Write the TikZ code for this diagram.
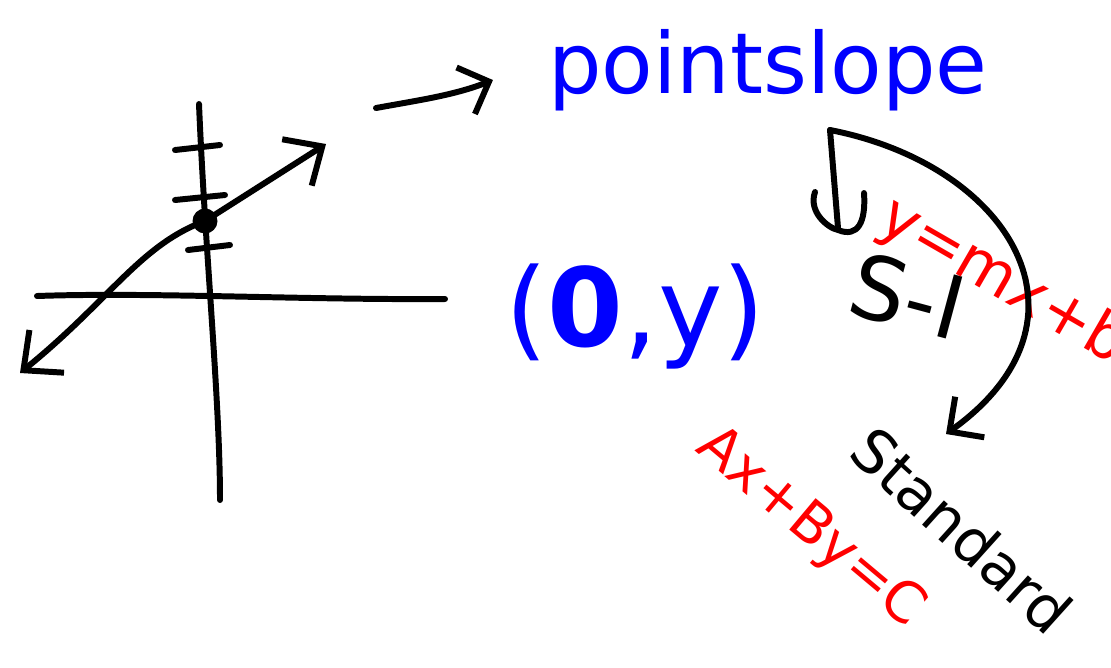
\documentclass[tikz,border=0pt]{standalone}
\usepackage{fontspec}
\setmainfont{DejaVu Sans}
\usetikzlibrary{arrows.meta}
\tikzset{
  hand/.style={line width=3.4pt,line cap=round,line join=round},
  barb/.style={-{Straight Barb[length=5mm,width=10mm,line width=3.4pt]}},
  word/.style={inner sep=0pt},
  dot/.style={circle,fill,inner sep=0pt,minimum size=5mm}
}
\begin{document}
\begin{tikzpicture}[x=0.02cm,y=-0.02cm]
        \useasboundingbox (0,0) rectangle (1111,667);
        %% axes
        \draw[hand] (37,296) .. controls (150,292) and (300,300) .. (445,299);
        \draw[hand] (199,104) .. controls (205,250) and (220,400) .. (220,500);
        \foreach \y/\l/\r in {148/175/220,198/175/225,248/188/230} \draw[hand] (\l,\y+2) -- (\r,\y-3);
        %% line through the y-intercept
        \node[dot] (yint) at (205,221) {};
        \draw[hand,{Straight Barb[length=6mm,width=11mm,line width=3.4pt]}-{Straight Barb[length=6mm,width=11mm,line width=3.4pt]}]
            (20,373) .. controls (110,300) and (140,245) .. (yint.center) -- (326,144);
        %% labels
        \node[word,blue,font=\fontsize{48}{48}\selectfont] (ps) at (768,70) {pointslope};
        \node[word,blue,font=\fontsize{62}{62}\selectfont] (pt) at (635,316) {(\textbf{0},y)};
        \node[word,font=\fontsize{50}{50}\selectfont,rotate=-15] (si) at (908,296) {S-I};
        \node[word,red,font=\fontsize{35}{35}\selectfont,rotate=-30] (sieq) at (1003,282) {y=mx+b};
        \node[word,font=\fontsize{34}{34}\selectfont,rotate=-42] (st) at (962,530) {Standard};
        \node[word,red,font=\fontsize{32}{32}\selectfont,rotate=-40] (steq) at (810,528) {Ax+By=C};
        %% arrows
        \coordinate (tail) at (376,108);
        \coordinate (fork) at (830,130);
        \coordinate (tip) at (946,434);
        \draw[hand,barb] (tail) .. controls (420,100) and (455,95) .. ([xshift=-1.1cm,yshift=-0.2cm]ps.west);
        \draw[hand,barb] (fork) .. controls (1010,165) and (1105,320) .. (tip);
        \draw[hand] (fork) -- (838,228);
        \draw[hand] (815,192) .. controls (808,212) and (828,228) .. (838,230)
            .. controls (858,238) and (866,222) .. (864,193);
\end{tikzpicture}
\end{document}
